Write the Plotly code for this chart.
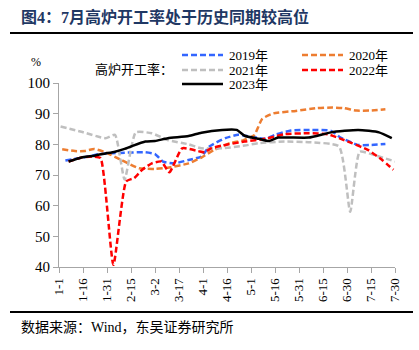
import plotly.graph_objects as go

# x = days since Jan 1
tick_vals = [0, 15, 30, 45, 60, 75, 90, 105, 120, 135, 150, 165, 180, 195, 210]
tick_text = ["1-1", "1-16", "1-31", "2-15", "3-2", "3-17", "4-1", "4-16",
             "5-1", "5-16", "5-31", "6-15", "6-30", "7-15", "7-30"]

x2019 = [4, 18, 25, 33, 43, 54, 60, 65, 72, 81, 89, 94, 104, 112, 120, 129, 135, 145, 158, 170, 176, 187, 195, 204]
y2019 = [74.7, 76.0, 76.8, 77.1, 77.3, 77.4, 76.8, 74.4, 73.8, 74.9, 76.0, 79.3, 82.0, 83.1, 82.5, 81.8, 83.1, 84.5, 84.7, 84.4, 82.2, 79.8, 79.8, 80.1]

x2020 = [2, 10, 16, 22, 29, 39, 50, 60, 68, 81, 89, 97, 107, 115, 122, 127, 134, 148, 161, 171, 178, 186, 194, 204]
y2020 = [78.4, 77.8, 77.8, 78.5, 77.4, 74.9, 72.2, 72.0, 72.4, 73.8, 75.7, 78.2, 80.4, 81.3, 83.0, 88.3, 90.1, 90.9, 91.8, 92.0, 91.8, 91.0, 91.0, 91.4]

x2021 = [1, 14, 29, 35, 41, 48, 58, 68, 81, 89, 102, 116, 125, 141, 156, 175, 182, 188, 197, 210]
y2021 = [85.8, 84.1, 82.0, 83.1, 68.5, 83.9, 83.6, 81.4, 80.0, 78.7, 78.7, 79.6, 80.4, 80.9, 80.7, 79.3, 58.0, 77.6, 76.5, 74.4]

x2022 = [6, 14, 22, 26, 34, 42, 47, 52, 58, 64, 69, 77, 87, 91, 95, 102, 106, 116, 129, 141, 156, 168, 175, 183, 193, 202, 209]
y2022 = [74.4, 75.7, 76.0, 75.5, 40.7, 67.9, 69.0, 71.7, 73.8, 74.4, 70.9, 78.7, 77.8, 77.4, 78.7, 79.6, 80.0, 80.9, 81.8, 83.3, 83.6, 83.3, 82.0, 80.4, 78.2, 74.9, 71.7]

x2023 = [6, 14, 22, 29, 35, 41, 45, 54, 60, 68, 81, 89, 102, 111, 116, 125, 131, 137, 156, 170, 187, 200, 208]
y2023 = [74.4, 75.7, 76.3, 77.0, 77.6, 78.5, 79.3, 80.9, 81.1, 82.0, 82.7, 83.8, 84.7, 84.7, 82.8, 81.8, 81.1, 82.2, 82.2, 83.9, 84.7, 83.9, 82.0]

series_names = ["2019年", "2020年", "2021年", "2022年", "2023年"]
series_colors = ["#3366FF", "#ED7D31", "#BFBFBF", "#FF0000", "#000000"]
series_dash = ["6px,3px", "6px,3px", "6px,3px", "6px,3px", "solid"]
series_x = [x2019, x2020, x2021, x2022, x2023]
series_y = [y2019, y2020, y2021, y2022, y2023]

SERIF = "Liberation Serif, Noto Sans CJK SC"

L, R, T, B = 59, 24, 83, 83
W, H = 419, 350
pw, ph = W - L - R, H - T - B

def px(x):
    return (x - L) / pw

def py(y):
    return (H - B - y) / ph

fig = go.Figure()
for name, xs, ys, c, d in zip(series_names, series_x, series_y, series_colors, series_dash):
    fig.add_trace(go.Scatter(
        x=xs, y=ys, name=name, mode="lines", showlegend=False,
        line=dict(color=c, width=2.5, dash=d, shape="spline", smoothing=0.5),
    ))

fig.update_layout(
    width=W, height=H,
    margin=dict(l=L, r=R, t=T, b=B),
    paper_bgcolor="white", plot_bgcolor="white",
    showlegend=False,
    xaxis=dict(
        range=[0, 210], tickvals=tick_vals, ticktext=tick_text,
        tickangle=-90, showgrid=False, zeroline=False,
        showline=True, linecolor="#A6A6A6", linewidth=1,
        ticks="outside", ticklen=5, tickcolor="#A6A6A6",
        tickfont=dict(family=SERIF, size=13, color="#000000"),
    ),
    yaxis=dict(
        range=[40, 100], dtick=10, showgrid=False, zeroline=False,
        showline=True, linecolor="#A6A6A6", linewidth=1,
        ticks="outside", ticklen=5, tickcolor="#A6A6A6",
        tickfont=dict(family=SERIF, size=15, color="#000000"),
    ),
    font=dict(family=SERIF),
)

# legend (drawn as key lines + labels): column x, row y in pixels
legend_pos = [(182, 55), (302, 55), (182, 70), (302, 70), (182, 84)]
for name, c, d, (lx, ly) in zip(series_names, series_colors, series_dash, legend_pos):
    fig.add_shape(type="line", xref="paper", yref="paper",
                  x0=px(lx), x1=px(lx + 41), y0=py(ly), y1=py(ly),
                  line=dict(color=c, width=2.5, dash=d))
    fig.add_annotation(
        text=name, xref="paper", yref="paper", x=px(lx + 45), y=py(ly),
        xanchor="left", yanchor="middle", showarrow=False,
        font=dict(family=SERIF, size=13, color="#000000"),
    )

fig.add_annotation(
    text="<b>图4：7月高炉开工率处于历史同期较高位</b>",
    xref="paper", yref="paper", x=px(19), y=py(17),
    xanchor="left", yanchor="middle", showarrow=False,
    font=dict(family=SERIF, size=16, color="#1F3864"),
)
fig.add_annotation(
    text="%", xref="paper", yref="paper", x=px(36), y=py(62),
    xanchor="center", yanchor="middle", showarrow=False,
    font=dict(family=SERIF, size=12, color="#000000"),
)
fig.add_annotation(
    text="高炉开工率：", xref="paper", yref="paper", x=px(93), y=py(69),
    xanchor="left", yanchor="middle", showarrow=False,
    font=dict(family=SERIF, size=13, color="#000000"),
)
fig.add_annotation(
    text="数据来源：Wind，东吴证券研究所", xref="paper", yref="paper",
    x=px(19), y=py(327), xanchor="left", yanchor="middle", showarrow=False,
    font=dict(family=SERIF, size=14, color="#000000"),
)

for yline in (33, 312):
    fig.add_shape(type="line", xref="paper", yref="paper",
                  x0=px(10), x1=px(413), y0=py(yline), y1=py(yline),
                  line=dict(color="#000000", width=2))

fig.write_html("out.html")
